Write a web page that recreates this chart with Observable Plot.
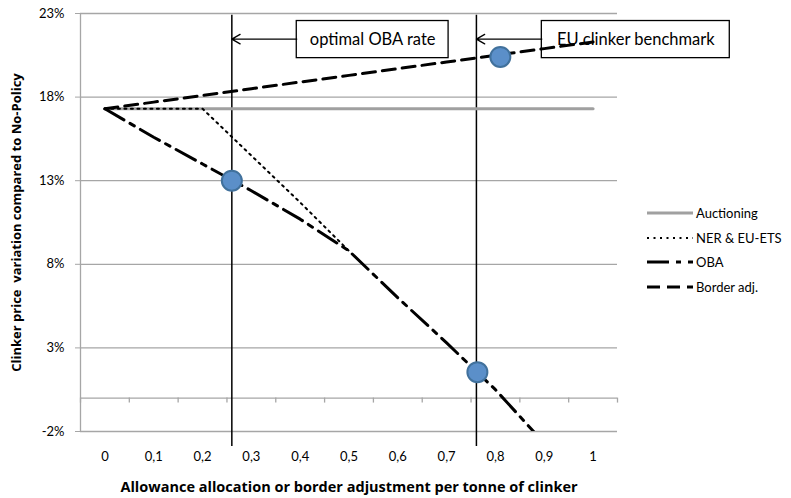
<!DOCTYPE html>
<html>
<head>
<meta charset="utf-8">
<script src="https://cdn.jsdelivr.net/npm/d3@7"></script>
<script src="https://cdn.jsdelivr.net/npm/@observablehq/plot@0.6"></script>
<style>
  html, body { margin: 0; padding: 0; background: white; }
  #wrap { position: relative; width: 791px; height: 498px; font-family: Lato, "Open Sans", sans-serif; }
  #legend { position: absolute; left: 647px; top: 201px; font-size: 13px; color: #000; }
  #legend .row { display: flex; align-items: center; height: 24.6px; }
  #legend svg { display: block; margin-right: 3px; }
</style>
</head>
<body>
<div id="wrap">
  <div id="chart"></div>
  <div id="legend"></div>
</div>
<script>
// ---- data ----
const xs = [0, 0.1, 0.2, 0.3, 0.4, 0.5, 0.6, 0.7, 0.8, 0.9, 1];
const auctioning = [17.3, 17.3, 17.3, 17.3, 17.3, 17.3, 17.3, 17.3, 17.3, 17.3, 17.3];
const nerX = [0, 0.1, 0.2, 0.3, 0.4, 0.5];
const ner = [17.3, 17.3, 17.3, 14.5, 11.7, 8.8];
const obaX = [0, 0.1, 0.2, 0.3, 0.4, 0.5, 0.6, 0.7, 0.8, 0.9];
const oba = [17.3, 15.6, 14.0, 12.4, 10.7, 8.8, 6.0, 3.3, 0.5, -2.7];
const border = [17.3, 17.7, 18.1, 18.5, 18.9, 19.3, 19.7, 20.1, 20.5, 20.9, 21.3];
const highlightX = [0.26, 0.763, 0.81];
const highlightY = [13, 1.55, 20.4];
const yTicks = [-2, 3, 8, 13, 18, 23];
const xBoundaries = [-0.05, 0.05, 0.15, 0.25, 0.35, 0.45, 0.55, 0.65, 0.75, 0.85, 0.95, 1.05];
const refLineX = [0.26, 0.761];
const annLabels = ["optimal OBA rate", "EU clinker benchmark"];
const annBoxX1 = [0.393, 0.895];
const annBoxX2 = [0.704, 1.28];
const annBoxY1 = [20.33, 20.33];
const annBoxY2 = [22.55, 22.55];
const annArrowY = 21.47;
const refLineYRange = [-2.9, 22.9];
const yTitle = "Clinker price  variation compared to No-Policy";
const xTitle = "Allowance allocation or border adjustment per tonne of clinker";
const seriesNames = ["Auctioning", "NER & EU-ETS", "OBA", "Border adj."];

// ---- tables ----
const auctData = xs.map((x, i) => ({x, y: auctioning[i]}));
const nerData = nerX.map((x, i) => ({x, y: ner[i]}));
const obaData = obaX.map((x, i) => ({x, y: oba[i]}));
const borderData = xs.map((x, i) => ({x, y: border[i]}));
const highlights = highlightX.map((x, i) => ({x, y: highlightY[i]}));
const anns = annLabels.map((label, i) => ({
  label, refX: refLineX[i], x1: annBoxX1[i], x2: annBoxX2[i], y1: annBoxY1[i], y2: annBoxY2[i]
}));

const gridColor = "#a6a6a6";
const titleFont = "'Open Sans', Lato, sans-serif";
const styles = {
  "Auctioning": {stroke: "#a0a0a0", strokeWidth: 3, strokeDasharray: null},
  "NER & EU-ETS": {stroke: "#000", strokeWidth: 2, strokeDasharray: "2,4.5"},
  "OBA": {stroke: "#000", strokeWidth: 3, strokeDasharray: "22,7,5,7"},
  "Border adj.": {stroke: "#000", strokeWidth: 3, strokeDasharray: "13,7"}
};

const chart = Plot.plot({
  width: 791,
  height: 498,
  marginLeft: 80,
  marginRight: 174,
  marginTop: 13,
  marginBottom: 67,
  x: {domain: [-0.05, 1.05]},
  y: {domain: [-2, 23]},
  style: {fontFamily: "Lato, 'Open Sans', sans-serif", fontSize: "13px", color: "#000", background: "white"},
  marks: [
    Plot.gridY(yTicks, {stroke: gridColor, strokeOpacity: 1, strokeWidth: 1.3}),
    Plot.ruleY([0], {stroke: gridColor, strokeWidth: 1.3}),
    Plot.ruleX(xBoundaries, {y1: 0, y2: -0.3, stroke: gridColor, strokeWidth: 1.3}),
    Plot.ruleX([-0.05], {stroke: gridColor, strokeWidth: 1.3}),
    Plot.axisY({ticks: yTicks, tickFormat: d => d + "%", tickSize: 5, tickPadding: 11, stroke: gridColor, label: null, fontSize: 13}),
    Plot.axisX({ticks: xs, tickSize: 0, tickPadding: 20, tickFormat: d => String(d).replace(".", ","), label: null, fontSize: 13}),
    Plot.text([yTitle], {frameAnchor: "left", dx: -64, rotate: -90, textAnchor: "middle", lineAnchor: "middle", text: d => d, fontWeight: "bold", fontSize: 13, fontFamily: titleFont}),
    Plot.text([xTitle], {frameAnchor: "bottom", dy: 56, textAnchor: "middle", lineAnchor: "middle", text: d => d, fontWeight: "bold", fontSize: 14.5, fontFamily: titleFont}),
    Plot.ruleX(refLineX, {y1: refLineYRange[0], y2: refLineYRange[1], stroke: "#000", strokeWidth: 1.5}),
    Plot.rect(anns, {x1: "x1", x2: "x2", y1: "y1", y2: "y2", fill: "white", stroke: "#000", strokeWidth: 1.3}),
    Plot.text(anns, {x: d => (d.x1 + d.x2) / 2, y: d => (d.y1 + d.y2) / 2, text: "label", fontSize: 16.5}),
    Plot.arrow(anns, {x1: "x1", x2: "refX", y1: () => annArrowY, y2: () => annArrowY, stroke: "#000", strokeWidth: 1.3, headLength: 11, bend: 0}),
    Plot.line(auctData, {x: "x", y: "y", ...styles["Auctioning"]}),
    Plot.line(nerData, {x: "x", y: "y", ...styles["NER & EU-ETS"]}),
    Plot.line(obaData, {x: "x", y: "y", ...styles["OBA"], clip: true}),
    Plot.line(borderData, {x: "x", y: "y", ...styles["Border adj."]}),
    Plot.dot(highlights, {x: "x", y: "y", r: 10, fill: "#5b8fc9", stroke: "#41719c", strokeWidth: 2})
  ]
});
document.getElementById("chart").appendChild(chart);

// legend
const legend = document.getElementById("legend");
for (const name of seriesNames) {
  const s = styles[name];
  const row = document.createElement("div");
  row.className = "row";
  row.innerHTML = `<svg width="46" height="10"><line x1="0" y1="5" x2="46" y2="5" stroke="${s.stroke}" stroke-width="${s.strokeWidth}" ${s.strokeDasharray ? `stroke-dasharray="${s.strokeDasharray}"` : ""}/></svg><span>${name}</span>`;
  legend.appendChild(row);
}
</script>
</body>
</html>
